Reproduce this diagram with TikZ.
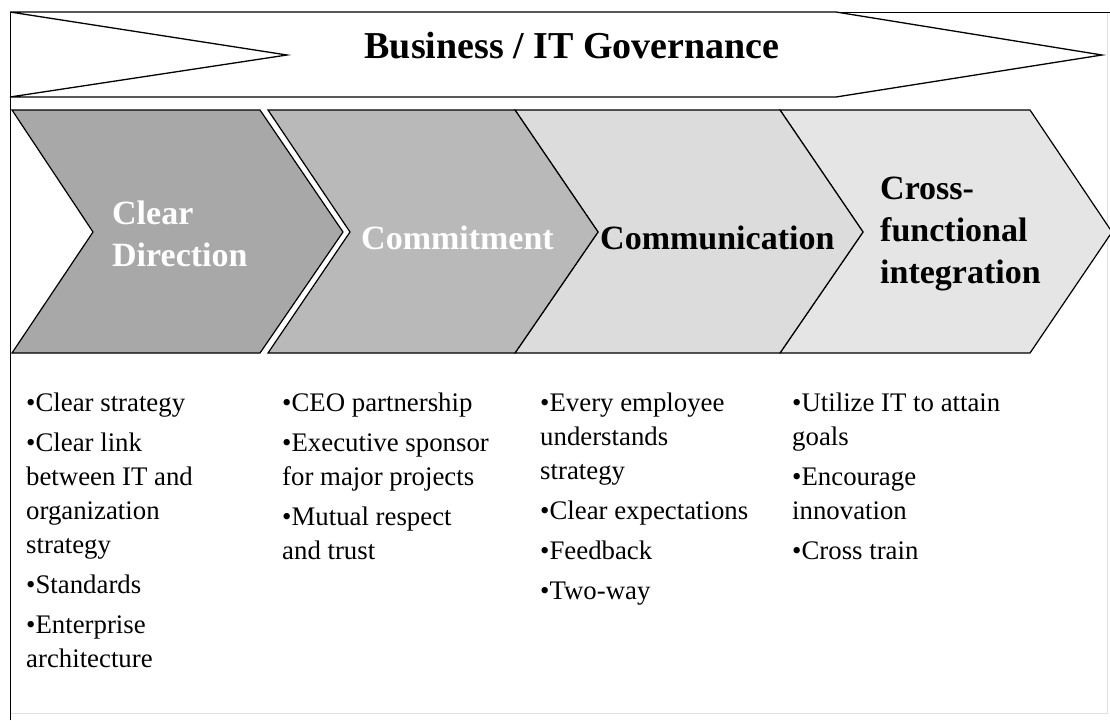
\documentclass[tikz,border=0pt]{standalone}
\usepackage{fontspec}
\setmainfont{Liberation Serif}
\usetikzlibrary{
  calc,
  positioning
}
\definecolor{chevron dark}{HTML}{A8A8A8}
\definecolor{chevron mid}{HTML}{B9B9B9}
\definecolor{chevron light}{HTML}{DCDCDC}
\definecolor{chevron pale}{HTML}{E5E5E5}
\tikzset{
  % For the frame round the whole figure.
  frame/.style={
    line width=1pt},
%
  % For the faint right and bottom edges of the frame.
  faint frame/.style={
    line width=1pt,
    draw=black!12},
%
  % For the governance banner on top.
  banner/.style={
    draw,
    fill=white,
    line width=1.3pt,
    line join=miter},
%
  % For the four chevrons.
  chevron/.style={
    draw,
    line width=1.2pt,
    line join=miter},
%
  % For the banner title.
  title/.style={
    inner sep=0pt,
    font=\fontsize{38}{44}\selectfont\bfseries},
%
  % For the texts inside the chevrons.
  chevron text/.style={
    inner sep=0pt,
    align=left,
    font=\fontsize{34}{42}\selectfont\bfseries},
%
  % For the bullet lists below the chevrons.
  bullets/.style={
    inner sep=0pt,
    anchor=north west,
    align=left,
    font=\fontsize{26.8}{34}\selectfont}
}

\begin{document}
\begin{tikzpicture}[x=1pt,y=-1pt]
  \useasboundingbox (0,0) rectangle (1110,720);

  % frame
  \draw[faint frame] (1107,12) -- (1107,713) -- (10,713);
  \draw[frame] (10,720) -- (10,12) -- (1110,12);

  % banner
  \draw[banner] (10,12) -- (836,12) -- (1102,55) -- (836,97)
                -- (10,97) -- (287,55) -- cycle;
  \node[title, anchor=base] (governance) at (572,58)
    {Business / IT Governance};

  % chevrons
  \draw[chevron, fill=chevron pale] (780,110) -- (1030,110) -- (1112,232)
        -- (1030,353) -- (780,353) -- (863,232) -- cycle;
  \draw[chevron, fill=chevron light] (515,110) -- (780,110) -- (863,232)
        -- (780,353) -- (515,353) -- (598,232) -- cycle;
  \draw[chevron, fill=chevron mid] (268,110) -- (515,110) -- (598,232)
        -- (515,353) -- (268,353) -- (350,232) -- cycle;
  \draw[chevron, fill=chevron dark] (12,110) -- (260,110) -- (343,232)
        -- (260,353) -- (12,353) -- (93,232) -- cycle;

  \node[chevron text, anchor=west, text=white] (direction) at (112,234)
    {Clear\\Direction};
  \node[chevron text, anchor=base west, text=white] (commitment) at (361,249)
    {Commitment};
  \node[chevron text, anchor=base west] (communication) at (600,249)
    {Communication};
  \node[chevron text, anchor=west] (integration) at (880,234)
    {Cross-\\functional\\integration};

  % bullet lists
  \node[bullets] (direction list) at (26,393)
    {•Clear strategy\\[6pt]
     •Clear link\\
     between IT and\\
     organization\\
     strategy\\[6pt]
     •Standards\\[6pt]
     •Enterprise\\
     architecture};
  \node[bullets] (commitment list) at (282,393)
    {•CEO partnership\\[6pt]
     •Executive sponsor\\
     for major projects\\[6pt]
     •Mutual respect\\
     and trust};
  \node[bullets] (communication list) at (540,393)
    {•Every employee\\
     understands\\
     strategy\\[6pt]
     •Clear expectations\\[6pt]
     •Feedback\\[6pt]
     •Two-way};
  \node[bullets] (integration list) at (792,393)
    {•Utilize IT to attain\\
     goals\\[6pt]
     •Encourage\\
     innovation\\[6pt]
     •Cross train};
\end{tikzpicture}
\end{document}
